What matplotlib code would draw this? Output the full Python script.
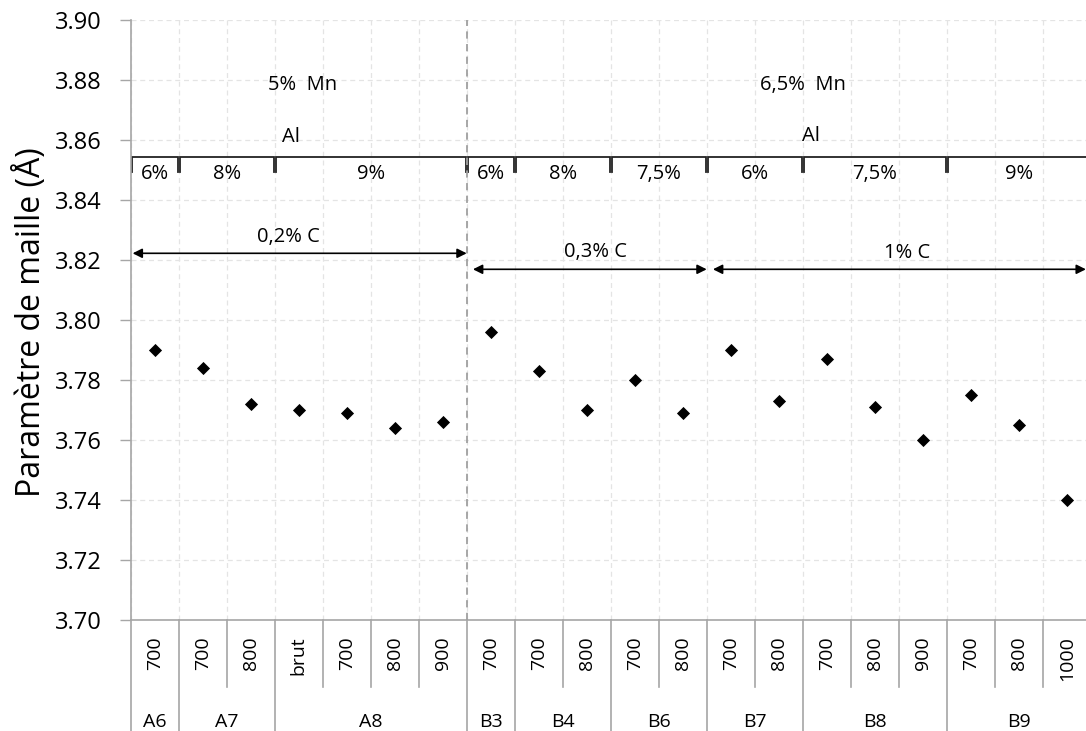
import matplotlib
matplotlib.use("Agg")
import matplotlib.pyplot as plt
import matplotlib.transforms as mtransforms
import numpy as np

plt.rcParams['font.family'] = ['Open Sans', 'DejaVu Sans']

# ---------------- data ----------------
samples = ['A6', 'A7', 'A8', 'B3', 'B4', 'B6', 'B7', 'B8', 'B9']
treatments = [['700'], ['700', '800'], ['brut', '700', '800', '900'], ['700'],
              ['700', '800'], ['700', '800'], ['700', '800'],
              ['700', '800', '900'], ['700', '800', '1000']]
lattice = [3.790, 3.784, 3.772, 3.770, 3.769, 3.764, 3.766,
           3.796, 3.783, 3.770, 3.780, 3.769, 3.790, 3.773,
           3.787, 3.771, 3.760, 3.775, 3.765, 3.740]
al_content = ['6%', '8%', '9%', '6%', '8%', '7,5%', '6%', '7,5%', '9%']
mn_labels = ['5%  Mn', '6,5%  Mn']
carbon_labels = ['0,2% C', '0,3% C', '1% C']
carbon_groups = [(0, 3), (3, 6), (6, 9)]   # sample index ranges
yticks = [3.70, 3.72, 3.74, 3.76, 3.78, 3.80, 3.82, 3.84, 3.86, 3.88, 3.90]

# ---------------- layout ----------------
W, H = 1086, 731
fig = plt.figure(figsize=(W / 100, H / 100), dpi=100)
ax = fig.add_axes([130.7 / W, 111 / H, 960 / W, 600 / H])

n = sum(len(t) for t in treatments)
x = np.arange(n)
ax.set_xlim(-0.5, n - 0.5)
ax.set_ylim(yticks[0], yticks[-1])

grid_col = '#e4e4e4'
axis_col = '#a6a6a6'

ax.set_yticks(yticks)
ax.set_yticklabels([f'{v:.2f}' for v in yticks])
ax.tick_params(axis='y', length=8, width=1, color=axis_col, labelsize=17, pad=13)
ax.set_xticks([])
ax.set_xticks(np.arange(-0.5, n, 1.0), minor=True)
ax.tick_params(axis='x', which='both', length=0, labelbottom=False)
ax.grid(axis='y', which='major', color=grid_col, ls=(0, (4, 3)), lw=0.9)
ax.grid(axis='x', which='minor', color=grid_col, ls=(0, (4, 3)), lw=0.9)
for s in ['top', 'right']:
    ax.spines[s].set_visible(False)
for s in ['left', 'bottom']:
    ax.spines[s].set_color(axis_col)
    ax.spines[s].set_linewidth(1.2)

ax.scatter(x, lattice, marker='D', s=6.7 ** 2, color='black', zorder=5, linewidths=0)

# separator between A and B series
n_A = sum(len(t) for s_, t in zip(samples, treatments) if s_.startswith('A'))
ax.axvline(n_A - 0.5, color='#a0a0a0', ls=(0, (4, 3)), lw=1.3, zorder=3)

# ---------------- multi-level category axis ----------------
trans = mtransforms.blended_transform_factory(ax.transData, ax.transAxes)
y_minor = -(687 - 620) / 600
y_group = -(731 - 620) / 600
y_tlab = -(636 - 620) / 600
y_glab = -(722 - 620) / 600

starts = np.cumsum([0] + [len(t) for t in treatments])
for gi, (s_, t) in enumerate(zip(samples, treatments)):
    lo, hi = starts[gi], starts[gi + 1]
    ax.plot([lo - 0.5, lo - 0.5], [0, y_group], transform=trans, color=axis_col,
            lw=1.2, clip_on=False)
    for k in range(lo + 1, hi):
        ax.plot([k - 0.5, k - 0.5], [0, y_minor], transform=trans, color=axis_col,
                lw=1.2, clip_on=False)
    for k, lab in enumerate(t):
        ax.text(lo + k, y_tlab, lab, transform=trans, rotation=90, ha='center',
                va='top', fontsize=14)
    ax.text((lo + hi - 1) / 2, y_glab, s_, transform=trans, ha='center',
            va='center', fontsize=14)
ax.plot([n - 0.5, n - 0.5], [0, y_group], transform=trans, color=axis_col,
        lw=1.2, clip_on=False)

# ---------------- annotations ----------------
def px2d(px, py):
    return (px - 130.7) / 48 - 0.5, 3.90 - (py - 20) / 3000

ann_fs = 14.5
for lab, (px, py) in zip(mn_labels, [(303, 85), (802.5, 85)]):
    xd, yd = px2d(px, py)
    ax.text(xd, yd, lab, ha='center', va='center', fontsize=ann_fs)
for (px, py) in [(291, 137), (811, 136)]:
    xd, yd = px2d(px, py)
    ax.text(xd, yd, 'Al', ha='center', va='center', fontsize=ann_fs)

# Al brackets
yb = px2d(0, 157)[1]
yt = px2d(0, 172)[1]
ylab = px2d(0, 174)[1]
for gi, lab in enumerate(al_content):
    lo, hi = starts[gi] - 0.5 + 0.03, starts[gi + 1] - 0.5 - 0.02
    hi = min(hi, n - 0.5)
    ax.plot([lo, lo, hi, hi], [yt, yb, yb, yt], color='#222222', lw=1.3,
            clip_on=False, solid_joinstyle='miter')
    ax.text((starts[gi] + starts[gi + 1] - 1) / 2, ylab, lab, ha='center',
            va='center', fontsize=ann_fs)

# carbon arrows
arrow_y = [253.3, 269.3, 269.3]
text_pos = [(288.3, 237.3), (595.3, 251.7), (907.2, 252.7)]
for (g0, g1), lab, ay, (tx, ty) in zip(carbon_groups, carbon_labels, arrow_y, text_pos):
    x0 = starts[g0] - 0.5 + (0.04 if g0 == 0 else 0.13)
    x1 = min(starts[g1] - 0.5, n - 0.6)
    yd = px2d(0, ay)[1]
    ax.annotate('', xy=(x1, yd), xytext=(x0, yd),
                arrowprops=dict(arrowstyle='<|-|>', color='black', lw=1.2,
                                mutation_scale=14, shrinkA=0, shrinkB=0),
                annotation_clip=False)
    txd, tyd = px2d(tx, ty)
    ax.text(txd, tyd, lab, ha='center', va='center', fontsize=ann_fs)

fig.text(31 / W, (H - 322) / H, 'Paramètre de maille (Å)', rotation=90,
         ha='center', va='center', fontsize=23)

fig.savefig('out.png', dpi=100)
